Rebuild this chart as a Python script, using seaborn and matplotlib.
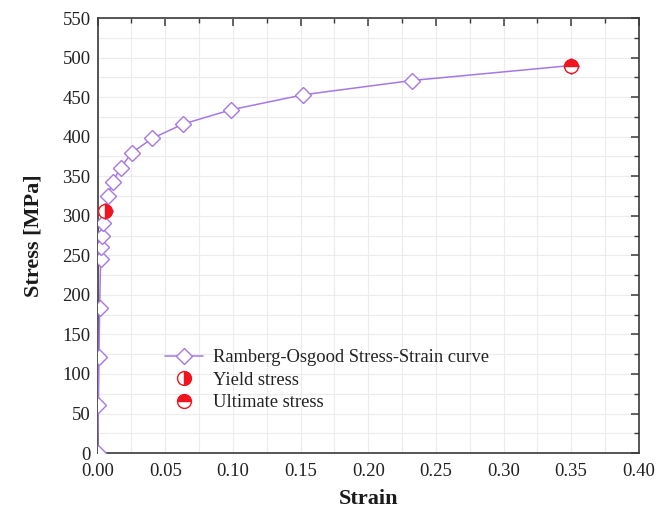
import matplotlib
matplotlib.use("Agg")
import matplotlib.pyplot as plt
from matplotlib.ticker import MultipleLocator, FormatStrFormatter
import seaborn as sns
import pandas as pd

# Ramberg-Osgood curve sample points
strain = [0.0, 0.0006, 0.0010, 0.0015, 0.0022, 0.0028, 0.0034, 0.0041, 0.0055,
          0.0078, 0.0112, 0.0170, 0.0255, 0.0405, 0.0632, 0.0985, 0.1520,
          0.2320, 0.3500]
stress = [0, 61, 122, 183, 245, 260, 275, 291, 306, 325, 343, 361, 380, 398,
          416, 434, 453, 471, 490]

# Characteristic points
yield_strain = [0.0055]
yield_stress = [306]
ultimate_strain = [0.35]
ultimate_stress = [490]

x_ticks = [0.00, 0.05, 0.10, 0.15, 0.20, 0.25, 0.30, 0.35, 0.40]
y_ticks = [0, 50, 100, 150, 200, 250, 300, 350, 400, 450, 500, 550]

sns.set_theme(style="white")
plt.rcParams["font.family"] = ["Liberation Serif", "DejaVu Serif"]
plt.rcParams["mathtext.fontset"] = "stix"

curve = pd.DataFrame({"Strain": strain, "Stress": stress})

fig = plt.figure(figsize=(6.71, 5.16), dpi=100)
ax = fig.add_axes([0.1455, 0.122, 0.8065, 0.843])

purple = "#a678e6"
red = "#f0141e"

sns.lineplot(data=curve, x="Strain", y="Stress", ax=ax, sort=False,
             color=purple, linewidth=1.1, marker="D", markersize=8.5,
             markerfacecolor="white", markeredgecolor=purple,
             markeredgewidth=1.0, label="Ramberg-Osgood Stress-Strain curve",
             zorder=3)

ax.plot(yield_strain, yield_stress, linestyle="none", marker="o",
        markersize=10, fillstyle="right", markerfacecolor=red,
        markerfacecoloralt="white", markeredgecolor=red, markeredgewidth=1.0,
        label="Yield stress", zorder=4)
ax.plot(ultimate_strain, ultimate_stress, linestyle="none", marker="o",
        markersize=10, fillstyle="top", markerfacecolor=red,
        markerfacecoloralt="white", markeredgecolor=red, markeredgewidth=1.0,
        label="Ultimate stress", zorder=4)

ax.set_xlim(0, 0.40)
ax.set_ylim(0, 550)
ax.set_xticks(x_ticks)
ax.set_yticks(y_ticks)
ax.xaxis.set_major_formatter(FormatStrFormatter("%.2f"))
ax.xaxis.set_minor_locator(MultipleLocator(0.025))
ax.yaxis.set_minor_locator(MultipleLocator(25))

ax.grid(True, which="both", color="#ececec", linewidth=0.8)
ax.set_axisbelow(True)

for side in ax.spines.values():
    side.set_visible(True)
    side.set_color("#3a3a3a")
    side.set_linewidth(1.2)

ax.tick_params(which="both", direction="in", top=True, right=True,
               colors="#3a3a3a", labelcolor="#222222")
ax.tick_params(which="major", length=6, width=1.1, labelsize=13.5, pad=5)
ax.tick_params(axis="x", which="major", pad=7.5)
ax.tick_params(which="minor", length=3.5, width=1.0)

ax.set_xlabel("Strain", fontsize=16, fontweight="bold", labelpad=6,
              color="#1a1a1a")
ax.set_ylabel("Stress [MPa]", fontsize=16, fontweight="bold", labelpad=14,
              color="#1a1a1a")

leg = ax.legend(loc="upper left", bbox_to_anchor=(0.11, 0.256), frameon=False,
                fontsize=13.3, handlelength=2.1, handletextpad=0.5,
                labelspacing=0.3, borderaxespad=0)
for t in leg.get_texts():
    t.set_color("#222222")

fig.savefig("out.png", dpi=100)
